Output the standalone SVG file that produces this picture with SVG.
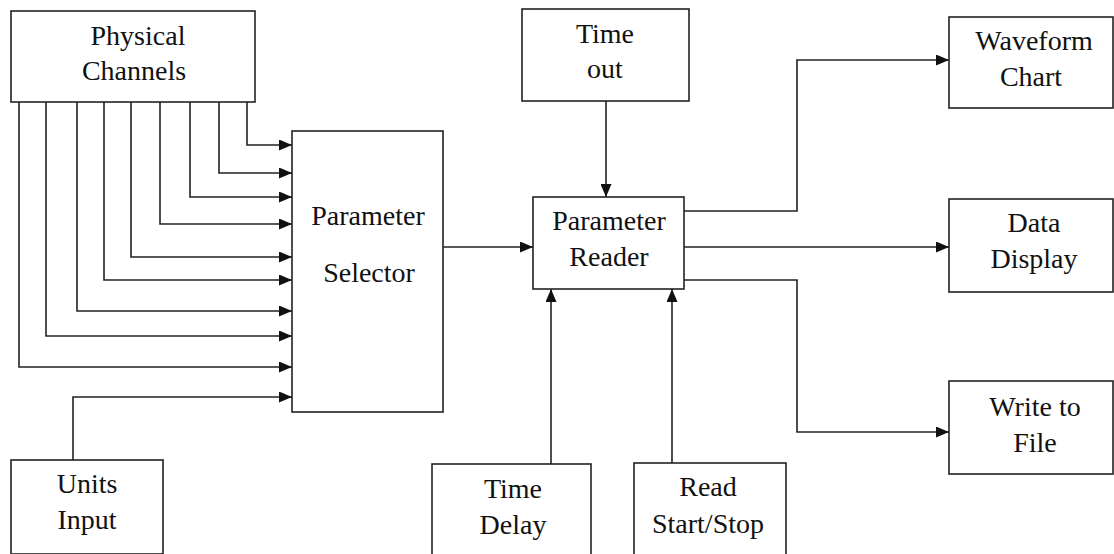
<svg xmlns="http://www.w3.org/2000/svg" width="1114" height="554" viewBox="0 0 1114 554">
  <style>
    .box { fill: #fff; stroke: #222; stroke-width: 1.6; }
    .lbl { font-family: 'Liberation Serif', 'DejaVu Serif', serif; font-size: 28px; fill: #111; text-anchor: middle; }
    .wire { fill: none; stroke: #222; stroke-width: 1.6; }
    .arr { marker-end: url(#head); }
  </style>
  <defs>
    <marker id="head" viewBox="0 0 13 11" refX="13" refY="5.5" markerWidth="13" markerHeight="11" markerUnits="userSpaceOnUse" orient="auto">
      <path d="M0,0 L13,5.5 L0,11 Z" fill="#111"/>
    </marker>
  </defs>
  <rect width="1114" height="554" fill="#fff"/>

  <!-- connectors -->
  <g id="connectors">
    <!-- channel lines into the selector -->
    <path class="wire arr" d="M247,102 V145 H292"/>
    <path class="wire arr" d="M219,102 V173 H292"/>
    <path class="wire arr" d="M190,102 V197 H292"/>
    <path class="wire arr" d="M160,102 V224 H292"/>
    <path class="wire arr" d="M131,102 V257 H292"/>
    <path class="wire arr" d="M104,102 V280 H292"/>
    <path class="wire arr" d="M77,102 V311 H292"/>
    <path class="wire arr" d="M46,102 V336 H292"/>
    <path class="wire arr" d="M19,102 V367 H292"/>
    <path class="wire arr" d="M73,460 V397 H292"/>
    <!-- selector to reader -->
    <path class="wire arr" d="M443,247 H533"/>
    <!-- timeout into reader -->
    <path class="wire arr" d="M606,101 V197"/>
    <!-- delay and start/stop into reader -->
    <path class="wire arr" d="M551,464 V289"/>
    <path class="wire arr" d="M672,463 V289"/>
    <!-- reader outputs -->
    <path class="wire arr" d="M684,211 H797 V60 H949"/>
    <path class="wire arr" d="M684,247 H949"/>
    <path class="wire arr" d="M684,280 H797 V432 H949"/>
  </g>

  <g id="physical-channels">
    <rect class="box" x="11" y="11" width="244" height="91"/>
    <text class="lbl" x="138" y="45">Physical</text>
    <text class="lbl" x="134" y="80">Channels</text>
  </g>

  <g id="units-input">
    <rect class="box" x="11" y="460" width="152" height="94"/>
    <text class="lbl" x="87" y="493">Units</text>
    <text class="lbl" x="87" y="529">Input</text>
  </g>

  <g id="parameter-selector">
    <rect class="box" x="292" y="131" width="151" height="281"/>
    <text class="lbl" x="368" y="225">Parameter</text>
    <text class="lbl" x="369" y="282">Selector</text>
  </g>

  <g id="time-out">
    <rect class="box" x="522" y="9" width="167" height="92"/>
    <text class="lbl" x="605" y="43">Time</text>
    <text class="lbl" x="605" y="78">out</text>
  </g>

  <g id="parameter-reader">
    <rect class="box" x="533" y="197" width="151" height="92"/>
    <text class="lbl" x="609" y="230">Parameter</text>
    <text class="lbl" x="609" y="266">Reader</text>
  </g>

  <g id="time-delay">
    <rect class="box" x="432" y="464" width="159" height="92"/>
    <text class="lbl" x="513" y="498">Time</text>
    <text class="lbl" x="513" y="534">Delay</text>
  </g>

  <g id="read-start-stop">
    <rect class="box" x="634" y="463" width="152" height="93"/>
    <text class="lbl" x="708" y="496">Read</text>
    <text class="lbl" x="708" y="533">Start/Stop</text>
  </g>

  <g id="waveform-chart">
    <rect class="box" x="949" y="17" width="164" height="91"/>
    <text class="lbl" x="1034" y="50">Waveform</text>
    <text class="lbl" x="1031" y="86">Chart</text>
  </g>

  <g id="data-display">
    <rect class="box" x="949" y="199" width="164" height="93"/>
    <text class="lbl" x="1034" y="232">Data</text>
    <text class="lbl" x="1034" y="268">Display</text>
  </g>

  <g id="write-to-file">
    <rect class="box" x="949" y="381" width="164" height="93"/>
    <text class="lbl" x="1035" y="416">Write to</text>
    <text class="lbl" x="1035" y="452">File</text>
  </g>
</svg>
